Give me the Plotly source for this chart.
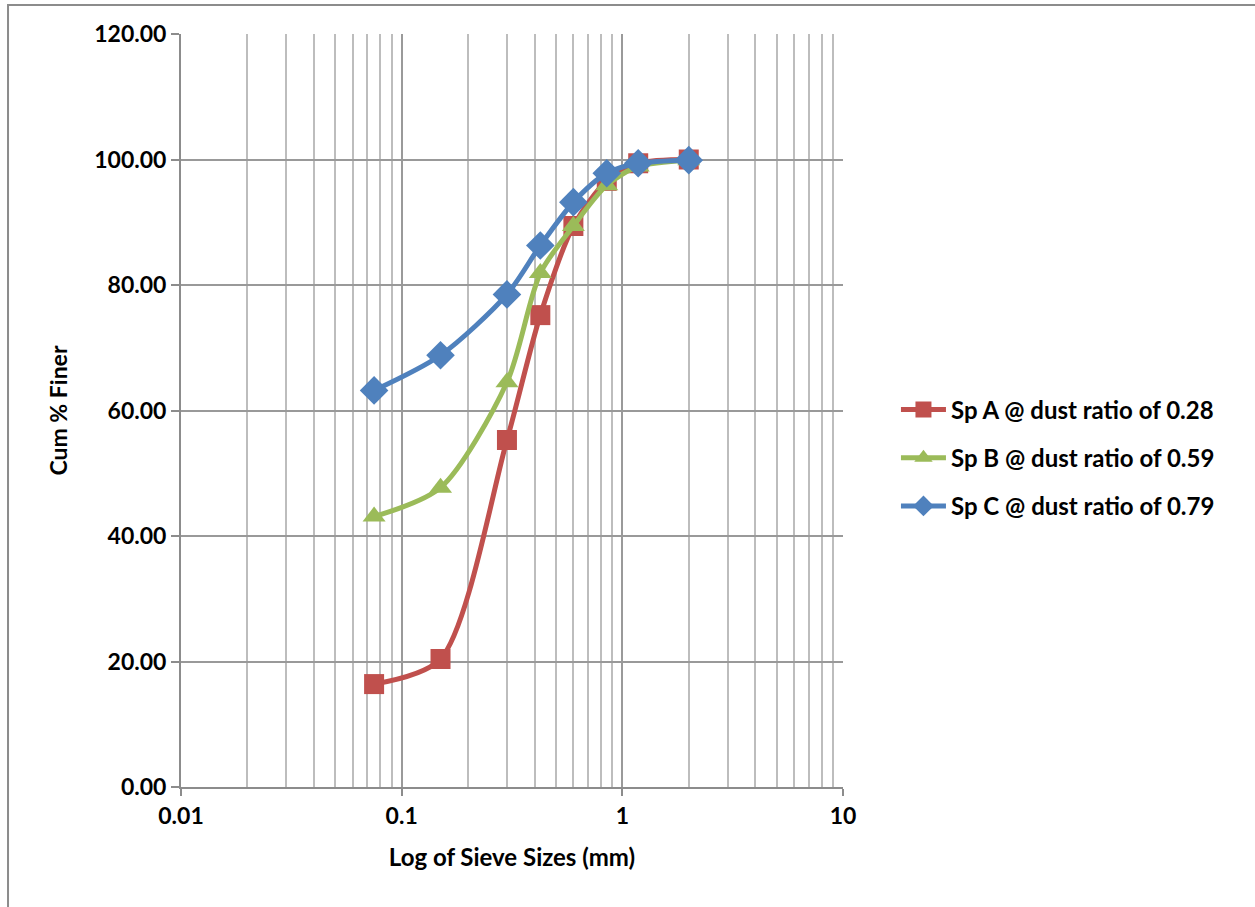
import plotly.graph_objects as go

sieve_sizes = [0.075, 0.15, 0.3, 0.425, 0.6, 0.85, 1.18, 2.0]
sp_a = [16.4, 20.4, 55.3, 75.2, 89.4, 96.6, 99.4, 100.0]
sp_b = [43.1, 47.7, 64.5, 81.9, 89.4, 95.9, 98.9, 99.9]
sp_c = [63.2, 68.8, 78.5, 86.3, 93.2, 97.8, 99.4, 99.9]
names = ["Sp A @ dust ratio of 0.28", "Sp B @ dust ratio of 0.59", "Sp C @ dust ratio of 0.79"]
colors = ["#C0504D", "#9BBB59", "#4F81BD"]
symbols = ["square", "triangle-up", "diamond"]
x_ticks = [0.01, 0.1, 1, 10]
x_tick_text = ["0.01", "0.1", "1", "10"]
y_ticks = [0, 20, 40, 60, 80, 100, 120]

FONT = "Lato"

fig = go.Figure()
for i, (vals, name) in enumerate(zip([sp_a, sp_b, sp_c], names)):
    fig.add_trace(go.Scatter(
        x=sieve_sizes, y=vals, name=name, mode="lines+markers",
        line=dict(color=colors[i], width=5, shape="spline", smoothing=0.8),
        marker=dict(symbol=symbols[i], size=20 if i != 2 else 22, color=colors[i]),
        legendgroup=f"g{i}",
    ))

minor_vals = []
for dec in [0.01, 0.1, 1]:
    for k in range(2, 10):
        minor_vals.append(round(dec * k, 4))

fig.update_layout(
    width=1255, height=907,
    margin=dict(l=181, r=412, t=34, b=120),
    paper_bgcolor="white", plot_bgcolor="white",
    font=dict(family=FONT, size=20, color="black"),
    showlegend=True,
    legend=dict(x=1.08, xanchor="left", y=0.437, yanchor="middle",
                font=dict(family=FONT, size=24, color="black", weight="bold"),
                tracegroupgap=14, itemwidth=45, bgcolor="rgba(0,0,0,0)"),
    xaxis=dict(
        type="log", range=[-2, 1],
        tickmode="array", tickvals=x_ticks, ticktext=x_tick_text,
        tickfont=dict(family=FONT, size=23, weight="bold"),
        showgrid=True, gridcolor="#9A9A9A", gridwidth=2,
        minor=dict(tickmode="array", tickvals=minor_vals, showgrid=True,
                   gridcolor="#BDBDBD", gridwidth=2, ticks=""),
        showline=True, linecolor="#8C8C8C", linewidth=2,
        ticks="outside", ticklen=7, tickcolor="#8C8C8C", tickwidth=2,
        title=dict(text="Log of Sieve Sizes (mm)",
                   font=dict(family=FONT, size=24, weight="bold"), standoff=22),
        zeroline=False,
    ),
    yaxis=dict(
        range=[0, 120], tickmode="array", tickvals=y_ticks,
        tickformat=".2f",
        tickfont=dict(family=FONT, size=23, weight="bold"),
        showgrid=True, gridcolor="#999999", gridwidth=2,
        showline=True, linecolor="#8C8C8C", linewidth=2,
        ticks="outside", ticklen=8, tickcolor="#8C8C8C", tickwidth=2,
        title=dict(text="Cum % Finer",
                   font=dict(family=FONT, size=23, weight="bold"), standoff=20),
        zeroline=False,
    ),
)

fig.add_shape(type="rect", xref="paper", yref="paper",
              x0=-0.2613, x1=1.7, y0=-0.25, y1=1.0385,
              line=dict(color="#8C8C8C", width=2), fillcolor="rgba(0,0,0,0)",
              layer="below")

fig.write_html("out.html")
